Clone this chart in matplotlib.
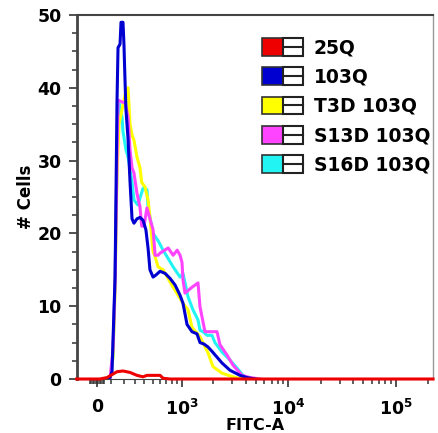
import numpy as np
import matplotlib
matplotlib.use("Agg")
import matplotlib.pyplot as plt
from matplotlib.legend_handler import HandlerBase
from matplotlib.lines import Line2D
from matplotlib.patches import Rectangle

plt.rcParams['font.family'] = ['DejaVu Sans']
plt.rcParams['font.weight'] = 'bold'
plt.rcParams['mathtext.fontset'] = 'dejavusans'

# FITC-A intensity (x) and # cells (y)
red_x = [-150, 21, 72, 109, 147, 195, 256, 321, 384, 428, 600, 645, 763, 222000]
red_y = [0, 0, 0.2, 0.6, 1.0, 1.1, 0.9, 0.5, 0.3, 0.5, 0.5, 0.1, 0, 0]

blue_x = [57, 94, 109, 116, 132, 139, 147, 155, 171, 179, 195, 203, 212, 220,
          238, 256, 274, 292, 321, 352, 384, 416, 441, 464, 503, 543, 600, 678,
          763, 856, 958, 1024, 1120, 1251, 1398, 1493, 1629, 1778, 1940, 2162,
          2410, 2862, 3550, 4126, 4900]
blue_y = [0, 0.2, 1, 5, 14, 25, 38, 45.5, 46, 49, 49, 46, 41, 37,
          33, 27, 22, 21.4, 22, 22.2, 21.8, 20.5, 18, 15, 14, 14.3, 14.8, 14.5,
          13.8, 12.9, 11.5, 10.4, 7.5, 6.5, 6.2, 5, 4.8, 4.4, 3.8, 3,
          2.2, 1.2, 0.5, 0.2, 0]

yellow_x = [94, 116, 132, 147, 163, 187, 212, 238, 256, 274, 292, 321, 352,
            370, 405, 441, 464, 490, 503, 530, 571, 645, 818, 1024, 1145, 1251,
            1493, 1778, 1982, 2410, 3055, 3707]
yellow_y = [0, 3, 12, 28, 35, 37, 39, 40, 35, 33.5, 32.8, 30.5, 29,
            27, 26.4, 24.6, 22.2, 19, 17.5, 16.8, 15.4, 15, 12.6, 10.4, 9.5, 7.1,
            5.8, 3.6, 1.7, 0.8, 0.3, 0]

magenta_x = [94, 116, 132, 147, 155, 195, 212, 238, 256, 274, 292, 321, 352,
             370, 395, 428, 464, 503, 530, 571, 600, 728, 818, 897, 958, 1001,
             1024, 1070, 1251, 1429, 1493, 1665, 2162, 2307, 2684, 3055, 3707,
             4402, 5454]
magenta_y = [0, 4, 13.3, 30, 38.3, 38, 38, 36, 31.4, 29, 28.3, 25.5, 23.6,
             21, 21, 23.5, 22, 20.5, 17, 17, 17.3, 18, 17, 17.7, 17, 16,
             13.6, 11.8, 12.6, 13.2, 9.9, 6.5, 6.5, 4.7, 3.3, 1.9, 0.5,
             0.2, 0]

cyan_x = [94, 116, 132, 147, 163, 187, 195, 220, 238, 274, 292, 330, 384, 428,
          441, 464, 503, 571, 645, 818, 958, 1024, 1145, 1279, 1429, 1493, 1594,
          1740, 1940, 2070, 2410, 2862, 3331, 3786, 4402]
cyan_y = [0, 3, 13, 30, 38, 36, 34, 31.5, 30.5, 27, 24.6, 23.9, 26.2, 26,
          23.6, 22.2, 20, 19, 17.7, 15.4, 14, 14.5, 11.3, 9.5, 8.1, 6.7, 6.5,
          6, 6, 5, 3.7, 2.6, 1.5, 0.5, 0]

labels = ['25Q', '103Q', 'T3D 103Q', 'S13D 103Q', 'S16D 103Q']
colors = ['#ee0000', '#0000d0', '#ffff00', '#ff44ff', '#22f4f4']


class SwatchHandler(HandlerBase):
    def create_artists(self, legend, orig_handle, xdescent, ydescent,
                       width, height, fontsize, trans):
        w = width / 2.0
        x0, y0 = -xdescent, -ydescent
        sq = Rectangle((x0, y0), w, height, facecolor=orig_handle.get_color(),
                       edgecolor='#333333', lw=1.2, transform=trans)
        box = Rectangle((x0 + w, y0), w, height, facecolor='white',
                        edgecolor='#222222', lw=1.5, transform=trans)
        mid = Line2D([x0 + w, x0 + 2 * w], [y0 + height / 2] * 2,
                     color='#222222', lw=1.5, transform=trans)
        return [sq, box, mid]


C = 333.0
fig = plt.figure(figsize=(4.38, 4.33), dpi=100)
ax = fig.add_axes([77 / 438, 1 - 379 / 433, 356 / 438, 364 / 433])
ax.set_xscale('function', functions=(lambda v: np.arcsinh(np.asarray(v) / C),
                                     lambda v: C * np.sinh(np.asarray(v))))

lc, = ax.plot(cyan_x, cyan_y, color=colors[4], lw=2.2, zorder=2)
ly, = ax.plot(yellow_x, yellow_y, color=colors[2], lw=2.2, zorder=3)
lm, = ax.plot(magenta_x, magenta_y, color=colors[3], lw=2.2, zorder=4)
lb, = ax.plot(blue_x, blue_y, color=colors[1], lw=2.2, zorder=5)
lr, = ax.plot(red_x, red_y, color=colors[0], lw=2.2, zorder=6, clip_on=False)

ax.set_xlim(-147, 222000)
ax.set_ylim(0, 50)

# axis ticks
ax.set_xticks([0, 1e3, 1e4, 1e5])
ax.set_xticklabels(['0', r'$\mathbf{10^{3}}$', r'$\mathbf{10^{4}}$', r'$\mathbf{10^{5}}$'])
minor_x = [v for v in range(-50, 60, 10) if v != 0]
for dec in [100, 1000, 10000, 100000]:
    minor_x += [k * dec for k in range(1, 10) if k * dec not in (1000, 10000, 100000)]
minor_x = [v for v in minor_x if v < 222000]
ax.set_xticks(minor_x, minor=True)
ax.set_yticks([0, 10, 20, 30, 40, 50])
ax.set_yticks(np.arange(0, 50.1, 2.5), minor=True)

ax.tick_params(axis='both', which='major', labelsize=12.5, width=1.2,
               length=6, color='#333333', pad=5)
ax.tick_params(axis='both', which='minor', width=1.1, length=3.5, color='#333333')
ax.tick_params(axis='x', which='major', pad=8)
for t in ax.get_xticklabels() + ax.get_yticklabels():
    t.set_fontweight('bold')

ax.spines['left'].set_linewidth(2)
ax.spines['left'].set_color('#444444')
ax.spines['top'].set_linewidth(1.5)
ax.spines['top'].set_color('#444444')
ax.spines['right'].set_linewidth(1)
ax.spines['right'].set_color('#999999')
ax.spines['bottom'].set_color('#444444')

ax.set_ylabel('# Cells', fontsize=12, fontweight='bold')
ax.yaxis.set_label_coords(-0.118, 0.5)
ax.set_xlabel('FITC-A', fontsize=11.5, fontweight='bold')
ax.xaxis.set_label_coords(0.5, -0.107)

leg = ax.legend([lr, lb, ly, lm, lc], labels, handler_map={Line2D: SwatchHandler()},
                loc='upper left', bbox_to_anchor=(262 / 438, 1 - 38 / 433),
                bbox_transform=fig.transFigure, frameon=False,
                prop={'family': 'DejaVu Sans', 'weight': 'bold', 'size': 13.5},
                handlelength=2.2, handleheight=1.07, handletextpad=0.55,
                labelspacing=0.54, borderpad=0, borderaxespad=0)

fig.savefig('out.png', dpi=100)
